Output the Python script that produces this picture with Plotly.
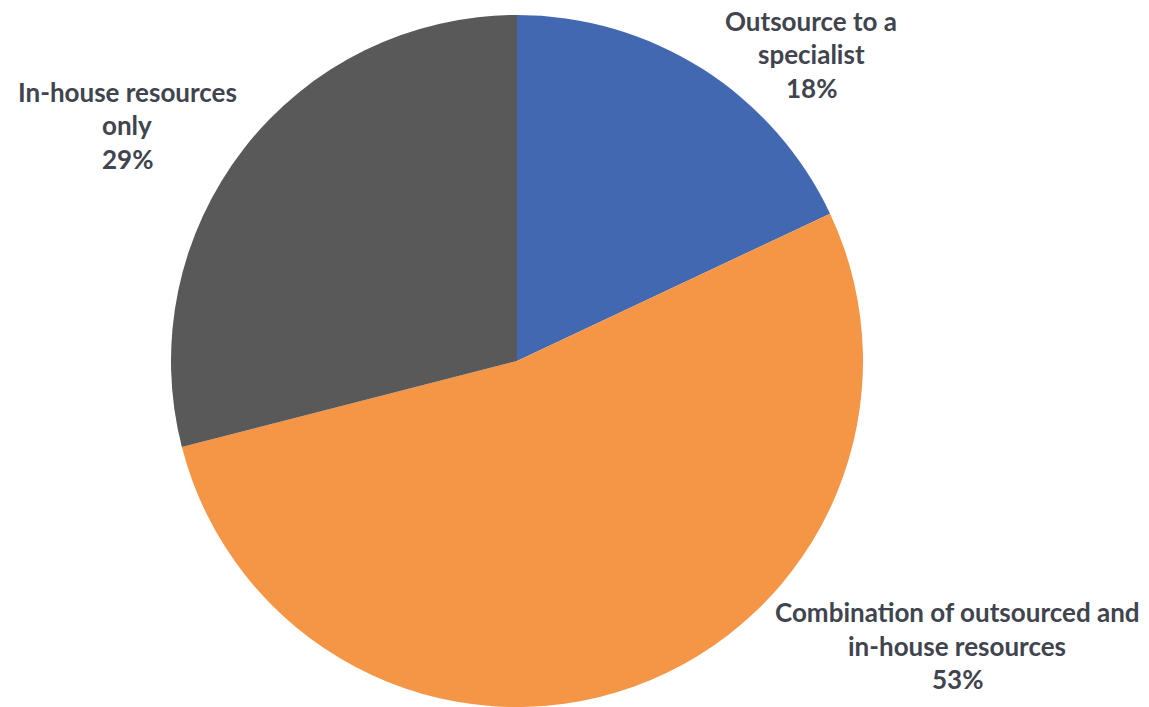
import plotly.graph_objects as go

labels = ["Outsource to a<br>specialist", "Combination of outsourced and<br>in-house resources", "In-house resources<br>only"]
values = [18, 53, 29]
colors = ["#4168B0", "#F59646", "#595959"]

W, H = 1149, 707
# label anchor positions in pixels (center x, first line middle y)
label_pos = [(811, 21), (957, 612), (127, 92)]
line_step = 33.5

fig = go.Figure()
fig.add_trace(go.Pie(
    labels=labels, values=values, sort=False, direction="clockwise", rotation=0,
    marker=dict(colors=colors, line=dict(width=0)),
    textinfo="none", hoverinfo="label+percent", showlegend=False,
    domain=dict(x=[171 / W, 863 / W], y=[0, 692 / H]),
))

font = dict(family="Lato, 'Open Sans', sans-serif", size=26, color="#3F444E")
for lab, val, (px, py) in zip(labels, values, label_pos):
    lines = lab.split("<br>") + [f"{val}%"]
    for i, ln in enumerate(lines):
        fig.add_annotation(
            x=px / W, y=1 - (py + i * line_step) / H, xref="paper", yref="paper",
            text=f"<b>{ln}</b>", showarrow=False, xanchor="center", yanchor="middle",
            font=font,
        )

fig.update_layout(width=W, height=H, margin=dict(l=0, r=0, t=0, b=0),
                  paper_bgcolor="white", plot_bgcolor="white")
fig.write_html("out.html", config={"displayModeBar": False},
               post_script="document.body.style.margin='0';")
